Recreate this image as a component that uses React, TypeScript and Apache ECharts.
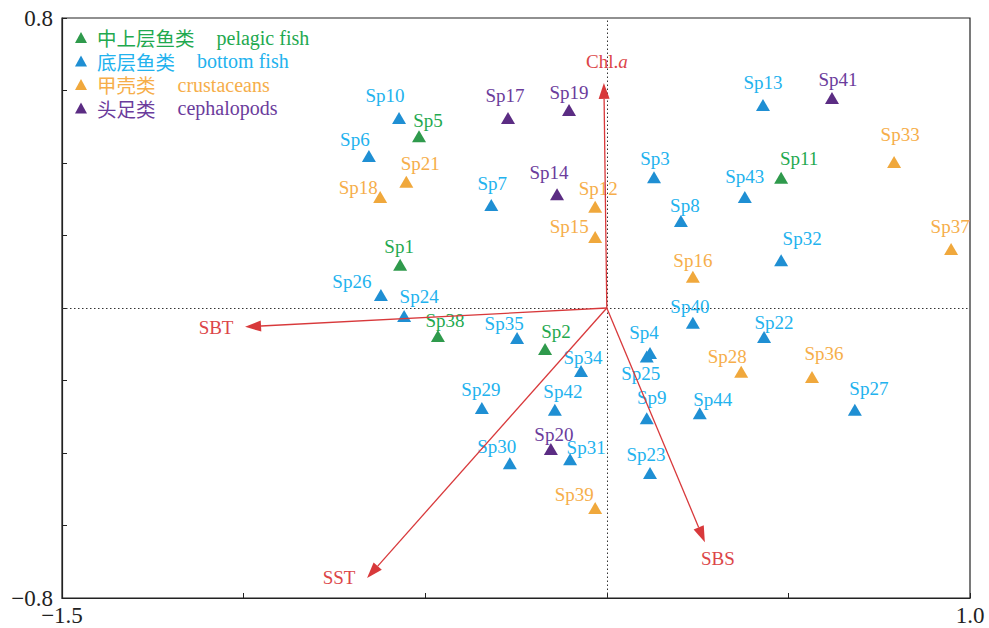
import React, { useEffect, useRef } from "react";
import * as echarts from "echarts";

// ---- data ----
const groupNames = ["中上层鱼类", "底层鱼类", "甲壳类", "头足类"];
const groupEnglish = ["pelagic fish", "bottom fish", "crustaceans", "cephalopods"];

const pelagicNames = ["Sp1", "Sp2", "Sp5", "Sp11", "Sp38"];
const pelagicX = [-0.569, -0.17, -0.517, 0.48, -0.465];
const pelagicY = [0.119, -0.113, 0.474, 0.359, -0.077];

const bottomNames = ["Sp3", "Sp4", "Sp6", "Sp7", "Sp8", "Sp9", "Sp10", "Sp13", "Sp22", "Sp23", "Sp24", "Sp25", "Sp26", "Sp27", "Sp29", "Sp30", "Sp31", "Sp32", "Sp34", "Sp35", "Sp40", "Sp42", "Sp43", "Sp44"];
const bottomX = [0.13, 0.119, -0.655, -0.318, 0.204, 0.11, -0.572, 0.43, 0.433, 0.119, -0.558, 0.11, -0.622, 0.683, -0.344, -0.267, -0.101, 0.48, -0.071, -0.247, 0.237, -0.143, 0.38, 0.256];
const bottomY = [0.361, -0.124, 0.419, 0.284, 0.24, -0.304, 0.524, 0.56, -0.08, -0.455, -0.022, -0.134, 0.036, -0.281, -0.276, -0.428, -0.417, 0.132, -0.174, -0.083, -0.041, -0.281, 0.306, -0.29];

const crustNames = ["Sp12", "Sp15", "Sp16", "Sp18", "Sp21", "Sp28", "Sp33", "Sp36", "Sp37", "Sp39"];
const crustX = [-0.032, -0.032, 0.237, -0.624, -0.552, 0.37, 0.791, 0.565, 0.948, -0.032];
const crustY = [0.279, 0.196, 0.086, 0.306, 0.348, -0.176, 0.403, -0.19, 0.163, -0.552];

const cephNames = ["Sp14", "Sp17", "Sp19", "Sp20", "Sp41"];
const cephX = [-0.137, -0.272, -0.104, -0.154, 0.62];
const cephY = [0.314, 0.524, 0.546, -0.389, 0.579];

const envNames = ["Chl.a", "SBT", "SST", "SBS"];
const envX = [-0.008, -0.996, -0.66, 0.27];
const envY = [0.621, -0.052, -0.745, -0.646];

const xTickLabels = ["\u22121.5", "1.0"];
const yTickLabels = ["0.8", "\u22120.8"];

// ---- layout (label nudges in pixels, relative to marker centre) ----
const labelNudge: Record<string, [number, number]> = {
  Sp1: [-1, -18], Sp2: [11, -17], Sp3: [1, -19], Sp4: [-6, -20], Sp5: [9, -16],
  Sp6: [-14, -17], Sp7: [1, -22], Sp8: [4, -16], Sp9: [5, -21], Sp10: [-14, -23],
  Sp11: [18, -19], Sp12: [3, -18], Sp13: [0, -23], Sp14: [-8, -22], Sp15: [-26, -10],
  Sp16: [0, -16], Sp17: [-3, -23], Sp18: [-22, -10], Sp19: [0, -18], Sp20: [3, -15],
  Sp21: [14, -18], Sp22: [10, -15], Sp23: [-4, -18], Sp24: [15, -19], Sp25: [-6, 17],
  Sp26: [-29, -13], Sp27: [14, -21], Sp28: [-14, -15], Sp29: [-1, -19], Sp30: [-13, -17],
  Sp31: [16, -12], Sp32: [21, -22], Sp33: [6, -27], Sp34: [2, -14], Sp35: [-13, -15],
  Sp36: [12, -23], Sp37: [-1, -22], Sp38: [7, -15], Sp39: [-21, -14], Sp40: [-3, -16],
  Sp41: [6, -19], Sp42: [8, -18], Sp43: [0, -21], Sp44: [13, -14],
};
const envNudge: [number, number][] = [[3, -21], [-29, 1], [-28, -1], [13, 16]];

const markerColors = ["#2f9a4c", "#1f8fd3", "#f0a83c", "#5b2c83"];
const labelColors = ["#1fa94f", "#22b2ee", "#f6ae4a", "#6b3c9c"];
const RED = "#d8393b";
const SERIF = '"Times New Roman", "Liberation Serif", "DejaVu Serif", serif';
const CJK = '"Noto Sans CJK SC", "Noto Sans", sans-serif';

function buildData(names: string[], xs: number[], ys: number[]) {
  return names.map((n, i) => ({
    name: n,
    value: [xs[i], ys[i]],
    label: { offset: labelNudge[n] || [0, -18] },
  }));
}

export default function App() {
  const ref = useRef<HTMLDivElement>(null);
  useEffect(() => {
    if (!ref.current) return;
    const chart = echarts.init(ref.current, undefined, { renderer: "svg" });
    const groups = [
      buildData(pelagicNames, pelagicX, pelagicY),
      buildData(bottomNames, bottomX, bottomY),
      buildData(crustNames, crustX, crustY),
      buildData(cephNames, cephX, cephY),
    ];
    const scatterSeries: any[] = groups.map((data, gi) => ({
      type: "scatter",
      name: groupNames[gi],
      data,
      symbol: "triangle",
      symbolSize: [14, 12],
      itemStyle: { color: markerColors[gi], opacity: 1 },
      label: {
        show: true,
        position: "inside",
        formatter: "{b}",
        color: labelColors[gi],
        fontFamily: SERIF,
        fontSize: 19,
      },
      emphasis: { disabled: true },
      z: 3,
      ...(gi === 0
        ? {
            markLine: {
              silent: true,
              symbol: ["none", "none"],
              label: { show: false },
              lineStyle: { type: [1.5, 2.5], color: "#333", width: 1 },
              data: [{ xAxis: 0 }, { yAxis: 0 }],
              z: 1,
            },
          }
        : {}),
    }));

    const envSeries = {
      type: "custom",
      name: "env",
      data: envNames.map((n, i) => [envX[i], envY[i]]),
      encode: { x: 0, y: 1 },
      z: 5,
      silent: true,
      renderItem: (params: any, api: any) => {
        const i = params.dataIndex;
        const p0 = api.coord([0, 0]);
        const p1 = api.coord([api.value(0), api.value(1)]);
        const dx = p1[0] - p0[0];
        const dy = p1[1] - p0[1];
        const len = Math.hypot(dx, dy);
        const ux = dx / len;
        const uy = dy / len;
        const hl = 16;
        const hw = 5.5;
        const bx = p1[0] - ux * hl;
        const by = p1[1] - uy * hl;
        const px = -uy;
        const py = ux;
        const name = envNames[i];
        const text = name === "Chl.a" ? "{n|Chl.}{i|a}" : name;
        return {
          type: "group",
          children: [
            { type: "line", shape: { x1: p0[0], y1: p0[1], x2: bx, y2: by }, style: { stroke: RED, lineWidth: 1.3 } },
            {
              type: "polygon",
              shape: { points: [[p1[0], p1[1]], [bx + px * hw, by + py * hw], [bx - px * hw, by - py * hw]] },
              style: { fill: RED },
            },
            {
              type: "text",
              x: p1[0] + envNudge[i][0],
              y: p1[1] + envNudge[i][1],
              style: {
                text,
                fill: "#dc4548",
                fontFamily: SERIF,
                fontSize: 19,
                align: "center",
                verticalAlign: "middle",
                rich: {
                  n: { fontFamily: SERIF, fontSize: 19, fill: "#dc4548" },
                  i: { fontFamily: SERIF, fontSize: 19, fontStyle: "italic", fill: "#dc4548" },
                },
              },
            },
          ],
        };
      },
    };

    const option: any = {
      animation: false,
      backgroundColor: "#ffffff",
      grid: {
        left: 62,
        right: 19,
        top: 18,
        bottom: 30,
        show: true,
        borderColor: "#222",
        borderWidth: 1.2,
        backgroundColor: "transparent",
      },
      legend: {
        orient: "vertical",
        left: 70,
        top: 22.5,
        itemWidth: 12,
        itemHeight: 11,
        itemGap: 3.5,
        icon: "triangle",
        selectedMode: false,
        data: groupNames.map((n, i) => ({ name: n, textStyle: { color: labelColors[i] } })),
        formatter: (name: string) => {
          const idx = groupNames.indexOf(name);
          return `{cn|${name}}{en|${groupEnglish[idx]}}`;
        },
        textStyle: {
          fontSize: 19,
          lineHeight: 20,
          rich: {
            cn: { fontFamily: CJK, fontSize: 19.5, padding: [0, 0, 0, 5], lineHeight: 20 },
            en: { fontFamily: SERIF, fontSize: 20, padding: [0, 0, 0, 22], lineHeight: 20 },
          },
        },
      },
      xAxis: {
        type: "value",
        min: -1.5,
        max: 1.0,
        interval: 0.5,
        axisLine: { show: true, onZero: false, lineStyle: { color: "#222", width: 1.2 } },
        axisTick: { show: true, inside: true, length: 5, lineStyle: { color: "#222" } },
        splitLine: { show: false },
        axisLabel: {
          showMinLabel: true,
          showMaxLabel: true,
          margin: 6,
          color: "#222",
          fontFamily: SERIF,
          fontSize: 23,
          formatter: (v: number) => {
            if (Math.abs(v + 1.5) < 1e-6) return xTickLabels[0];
            if (Math.abs(v - 1.0) < 1e-6) return xTickLabels[1];
            return "";
          },
        },
      },
      yAxis: {
        type: "value",
        min: -0.8,
        max: 0.8,
        interval: 0.2,
        axisLine: { show: true, onZero: false, lineStyle: { color: "#222", width: 1.2 } },
        axisTick: { show: true, inside: true, length: 5, lineStyle: { color: "#222" } },
        splitLine: { show: false },
        axisLabel: {
          showMinLabel: true,
          showMaxLabel: true,
          margin: 9,
          color: "#222",
          fontFamily: SERIF,
          fontSize: 23,
          formatter: (v: number) => {
            if (Math.abs(v - 0.8) < 1e-6) return yTickLabels[0];
            if (Math.abs(v + 0.8) < 1e-6) return yTickLabels[1];
            return "";
          },
        },
      },
      series: [...scatterSeries, envSeries],
    };
    chart.setOption(option);
    return () => chart.dispose();
  }, []);
  return (
    <div
      ref={ref}
      style={{ position: "fixed", left: 0, top: 0, width: 989, height: 628, background: "#fff" }}
    />
  );
}
